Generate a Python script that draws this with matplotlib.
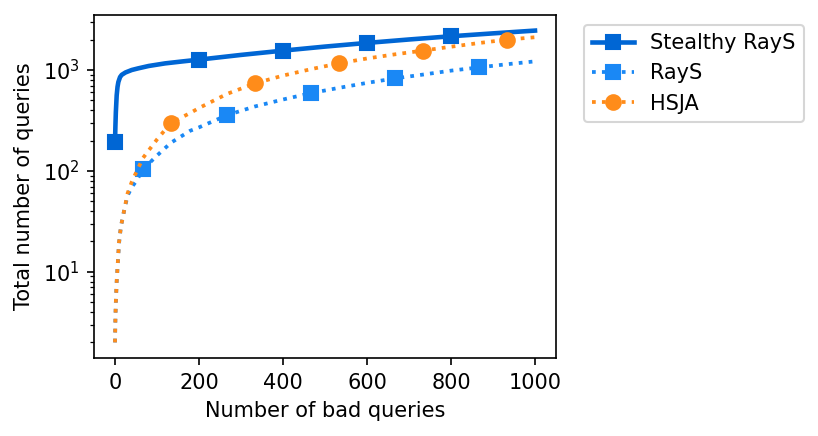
import matplotlib
matplotlib.use("Agg")
import matplotlib.pyplot as plt

# Data
x_stealthy = [0, 1, 2, 4, 6, 8, 12, 16, 25, 40, 55, 80, 119, 160, 200, 300, 400,
              500, 600, 700, 800, 900, 1000]
y_stealthy = [193, 280, 380, 560, 680, 760, 850, 895, 945, 1000, 1037, 1095, 1162,
              1215, 1266, 1410, 1555, 1705, 1854, 2005, 2158, 2305, 2456]

x_base = [0, 1, 2, 4, 6, 9.5, 14, 22, 30, 40, 52, 67, 100, 133, 179, 200, 267, 333,
          400, 467, 533, 600, 667, 733, 800, 867, 933, 1000]
y_rays = [2, 3.5, 5, 8, 11, 19, 28, 41, 57, 69, 81, 104, 142, 190, 250, 270, 357,
          435, 510, 590, 665, 745, 826, 900, 985, 1061, 1140, 1217]
y_hsja = [2, 3.5, 5, 8, 11, 19.5, 28, 41, 60, 78, 100, 135, 205, 298, 375, 420, 580,
          736, 880, 1020, 1163, 1300, 1430, 1555, 1700, 1850, 1999, 2110]

marks_stealthy = [0, 200, 400, 600, 800]
marks_rays = [67, 267, 467, 667, 867]
marks_hsja = [133, 333, 533, 733, 933]

labels = ["Stealthy RayS", "RayS", "HSJA"]
colors = ["#0066D4", "#1A88F5", "#FF8C1A"]

W, H, DPI = 818, 436, 150
fig = plt.figure(figsize=(W / DPI, H / DPI), dpi=DPI)
ax = fig.add_axes([94 / W, 1 - 358 / H, (556 - 94) / W, (358 - 15) / H])

ax.plot(x_stealthy, y_stealthy, color=colors[0], linestyle="-", linewidth=2.2,
        marker="s", markersize=7,
        markevery=[x_stealthy.index(v) for v in marks_stealthy], label=labels[0])
ax.plot(x_base, y_rays, color=colors[1], linestyle=":", linewidth=1.8,
        marker="s", markersize=7,
        markevery=[x_base.index(v) for v in marks_rays], label=labels[1])
ax.plot(x_base, y_hsja, color=colors[2], linestyle=":", linewidth=1.8,
        marker="o", markersize=7,
        markevery=[x_base.index(v) for v in marks_hsja], label=labels[2])

ax.set_yscale("log")
ax.set_xlabel("Number of bad queries", fontsize=10)
ax.set_ylabel("Total number of queries", fontsize=10)
ax.tick_params(labelsize=10)

ax.legend(loc="upper left", bbox_to_anchor=(1.06, 0.972), borderaxespad=0,
          fontsize=10)

fig.savefig("out.png", dpi=DPI)
